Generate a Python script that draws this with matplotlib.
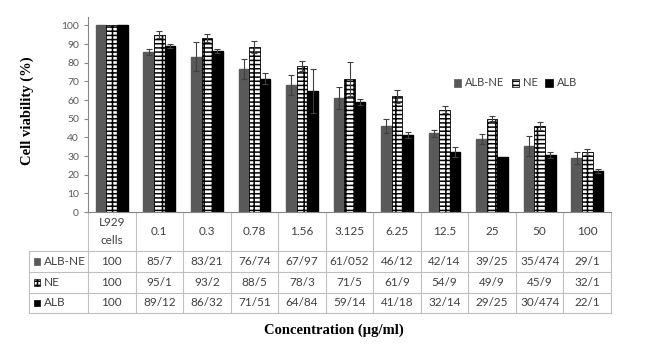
import matplotlib
matplotlib.use('Agg')
import matplotlib.pyplot as plt
import numpy as np
from matplotlib.patches import Rectangle, Patch
from matplotlib.lines import Line2D
from matplotlib.transforms import blended_transform_factory

plt.rcParams['font.family'] = ['Lato', 'DejaVu Sans']
plt.rcParams['hatch.linewidth'] = 1.1

# Concentrations (ug/ml) and the values as printed in the data table
concentrations = ['L929\ncells', '0.1', '0.3', '0.78', '1.56', '3.125', '6.25', '12.5', '25', '50', '100']
series_names = ['ALB-NE', 'NE', 'ALB']
alb_ne_labels = ['100', '85/7', '83/21', '76/74', '67/97', '61/052', '46/12', '42/14', '39/25', '35/474', '29/1']
ne_labels = ['100', '95/1', '93/2', '88/5', '78/3', '71/5', '61/9', '54/9', '49/9', '45/9', '32/1']
alb_labels = ['100', '89/12', '86/32', '71/51', '64/84', '59/14', '41/18', '32/14', '29/25', '30/474', '22/1']

# Error bars
alb_ne_err = [0, 1.5, 7.7, 5.4, 5.5, 5.8, 3.7, 2.0, 2.7, 5.4, 3.2]
ne_err = [0, 1.7, 2.0, 3.1, 2.7, 9.1, 3.3, 2.1, 1.3, 2.1, 1.6]
alb_err = [0, 1.0, 1.2, 3.0, 11.9, 1.6, 1.5, 2.7, 0, 1.7, 1.0]


def to_num(labels):
    # table uses "/" as the decimal sign
    return np.array([float(s.replace('/', '.')) for s in labels])


table_rows = [alb_ne_labels, ne_labels, alb_labels]
values = [to_num(r) for r in table_rows]
errors = [np.array(alb_ne_err), np.array(ne_err), np.array(alb_err)]
styles = [dict(color='#595959', edgecolor='#595959'),
          dict(color='white', edgecolor='black', hatch='----||', linewidth=0.6),
          dict(color='black', edgecolor='black')]

W, H = 647, 345
fig = plt.figure(figsize=(W / 100, H / 100), dpi=100)
ax = fig.add_axes([88 / W, 1 - 212 / H, (611 - 88) / W, (212 - 17) / H])

x = np.arange(len(concentrations))
w = 1 / 4.5
for i in range(3):
    pos = x + (i - 1) * w
    ax.bar(pos, values[i], width=w, **styles[i])
    m = errors[i] > 0
    ax.errorbar(pos[m], values[i][m], yerr=errors[i][m], fmt='none',
                ecolor='#404040', elinewidth=0.8, capsize=2, capthick=0.8)

ax.set_xlim(-0.5, len(concentrations) - 0.5)
ax.set_ylim(0, 104.5)
ax.set_yticks(np.arange(0, 101, 10))
ax.set_xticks([])
ax.tick_params(axis='y', labelsize=7.5, labelcolor='#595959', color='#868686', length=3, width=0.8)
for s in ['top', 'right']:
    ax.spines[s].set_visible(False)
for s in ['left', 'bottom']:
    ax.spines[s].set_color('#868686')
    ax.spines[s].set_linewidth(0.8)

# data table under the chart
trans = blended_transform_factory(ax.transData, ax.transAxes)
ax_h = 212 - 17
rows_y = [0, -39 / ax_h, -60 / ax_h, -81 / ax_h, -101 / ax_h]
x_left = -0.5 - 59 / 47.55
grid_kw = dict(color='#bfbfbf', linewidth=0.8, transform=trans, clip_on=False)
for k in range(len(concentrations) + 1):
    ax.add_line(Line2D([k - 0.5, k - 0.5], [rows_y[0], rows_y[-1]], **grid_kw))
ax.add_line(Line2D([x_left, x_left], [rows_y[1], rows_y[-1]], **grid_kw))
for yy in rows_y[1:]:
    ax.add_line(Line2D([x_left, len(concentrations) - 0.5], [yy, yy], **grid_kw))

txt_kw = dict(fontsize=8.5, color='#404040', ha='center', va='center', transform=trans, clip_on=False)
hy = (rows_y[0] + rows_y[1]) / 2
for xi, c in zip(x, concentrations):
    ax.text(xi, hy, c, linespacing=1.7, **txt_kw)
for r, row in enumerate(table_rows):
    ry = (rows_y[r + 1] + rows_y[r + 2]) / 2
    for xi, s in zip(x, row):
        ax.text(xi, ry, s, **txt_kw)
    ax.add_patch(Rectangle((-0.5 - 54 / 47.55, ry - 0.016), 0.12, 0.032, facecolor=styles[r]['color'],
                           edgecolor=styles[r]['edgecolor'], hatch=styles[r].get('hatch'),
                           linewidth=0.5, transform=trans, clip_on=False))
    ax.text(-0.5 - 44 / 47.55, ry, series_names[r], fontsize=8.5, color='#404040',
            ha='left', va='center', transform=trans, clip_on=False)

# legend
handles = [Patch(facecolor=st['color'], edgecolor=st['edgecolor'], hatch=st.get('hatch'), linewidth=0.5)
           for st in styles]
fig.legend(handles, series_names, loc='center left', bbox_to_anchor=(448 / W, 1 - 83 / H),
           ncol=3, frameon=False, fontsize=8, handlelength=0.7, handleheight=0.7,
           handletextpad=0.3, columnspacing=0.7, labelcolor='#404040', borderpad=0)

fig.text(27 / W, 1 - 111 / H, 'Cell viability (%)', rotation=90, fontfamily='Liberation Serif',
         fontweight='bold', fontsize=10.5, ha='center', va='center')
fig.text(334 / W, 1 - 330 / H, 'Concentration (\u00b5g/ml)', fontfamily='Liberation Serif',
         fontweight='bold', fontsize=10.5, ha='center', va='center')

fig.savefig('out.png', dpi=100)
